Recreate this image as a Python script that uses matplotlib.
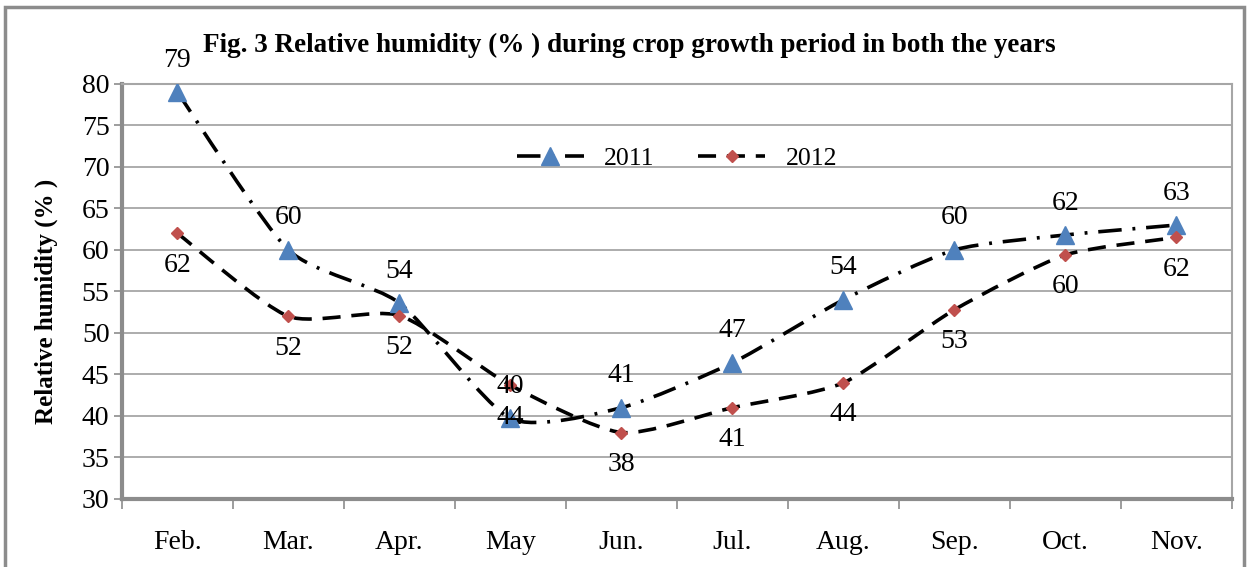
import matplotlib
matplotlib.use("Agg")
import matplotlib.pyplot as plt
import numpy as np
from matplotlib.path import Path
from matplotlib.patches import PathPatch, Rectangle
from matplotlib.lines import Line2D

# Data
months = ["Feb.", "Mar.", "Apr.", "May", "Jun.", "Jul.", "Aug.", "Sep.", "Oct.", "Nov."]
rh_2011 = [79, 60, 53.6, 39.7, 41, 46.4, 54, 60, 61.8, 63]
rh_2012 = [62, 52, 52.1, 43.7, 38, 41, 44, 52.8, 59.4, 61.5]
labels_2011 = ["79", "60", "54", "40", "41", "47", "54", "60", "62", "63"]
labels_2012 = ["62", "52", "52", "44", "38", "41", "44", "53", "60", "62"]

plt.rcParams['font.family'] = ['Liberation Serif', 'DejaVu Serif']


def smooth_path(xs, ys, k=9.0):
    # light smoothing drawn as cubic bezier segments
    pts = np.column_stack([xs, ys]).astype(float)
    n = len(pts)
    verts = [pts[0]]
    codes = [Path.MOVETO]
    for i in range(n - 1):
        p0 = pts[i - 1] if i > 0 else pts[i]
        p1 = pts[i]
        p2 = pts[i + 1]
        p3 = pts[i + 2] if i + 2 < n else pts[i + 1]
        c1 = p1 + (p2 - p0) / k
        c2 = p2 - (p3 - p1) / k
        verts += [c1, c2, p2]
        codes += [Path.CURVE4] * 3
    return Path(verts, codes)


fig = plt.figure(figsize=(12.52, 5.67), dpi=100)
ax = fig.add_axes([0.0974, 0.120, 0.8866, 0.732])

x = np.arange(len(months))

dashdot = (0, (6.5, 3, 0.8, 3))
dashed = (0, (5, 3))

ax.add_patch(PathPatch(smooth_path(x, rh_2011), fill=False, edgecolor='black',
                       lw=2.6, linestyle=dashdot, zorder=3))
ax.add_patch(PathPatch(smooth_path(x, rh_2012), fill=False, edgecolor='black',
                       lw=2.6, linestyle=dashed, zorder=3))

ax.plot(x, rh_2011, linestyle='none', marker='^', markersize=13,
        color='#4F81BD', zorder=4)
ax.plot(x, rh_2012, linestyle='none', marker='D', markersize=6.5,
        color='#C0504D', zorder=4)

# data labels
for xi, yi, lab in zip(x, rh_2011, labels_2011):
    ax.annotate(lab, (xi, yi), xytext=(0, 14), textcoords='offset points',
                ha='center', va='bottom', fontsize=20, zorder=5)
for xi, yi, lab in zip(x, rh_2012, labels_2012):
    ax.annotate(lab, (xi, yi), xytext=(0, -14), textcoords='offset points',
                ha='center', va='top', fontsize=20, zorder=5)

ax.set_xlim(-0.5, len(months) - 0.5)
ax.set_ylim(30, 80)
ax.set_yticks(np.arange(30, 81, 5))
ax.set_xticks(x)
ax.set_xticklabels(months)
ax.set_xticks(np.arange(-0.5, len(months), 1), minor=True)
ax.tick_params(axis='x', which='major', length=0, pad=22, labelsize=20)
ax.tick_params(axis='x', which='minor', length=7, width=1.2, color='#8c8c8c')
ax.tick_params(axis='y', length=6, width=1.2, color='#8c8c8c', labelsize=20, pad=3)

ax.grid(axis='y', color='#a6a6a6', lw=1.3)
ax.set_axisbelow(True)
for side in ['left', 'bottom']:
    ax.spines[side].set_color('#8c8c8c')
    ax.spines[side].set_linewidth(3)
for side in ['top', 'right']:
    ax.spines[side].set_color('#a6a6a6')
    ax.spines[side].set_linewidth(1.5)

ax.set_ylabel("Relative humidity (% )", fontsize=18, fontweight='bold')
ax.yaxis.set_label_coords(-0.058, 0.475)

handles = [
    Line2D([], [], color='black', lw=2.6, linestyle=dashdot, marker='^',
           markersize=13, markerfacecolor='#4F81BD', markeredgecolor='#4F81BD'),
    Line2D([], [], color='black', lw=2.6, linestyle=dashed, marker='D',
           markersize=6.5, markerfacecolor='#C0504D', markeredgecolor='#C0504D'),
]
ax.legend(handles, ["2011", "2012"], loc='center', bbox_to_anchor=(0.5, 0.82),
          ncol=2, frameon=False, fontsize=18.5, handlelength=2.6,
          columnspacing=1.7, markerscale=1)

fig.text(0.503, 0.92, "Fig. 3 Relative humidity (% ) during crop growth period in both the years",
         ha='center', va='center', fontsize=19.5, fontweight='bold')

fig.patches.append(Rectangle((0.004, -0.01), 0.99, 0.998, transform=fig.transFigure,
                             fill=False, edgecolor='#8c8c8c', lw=2.5))

fig.savefig("out.png", dpi=100)
